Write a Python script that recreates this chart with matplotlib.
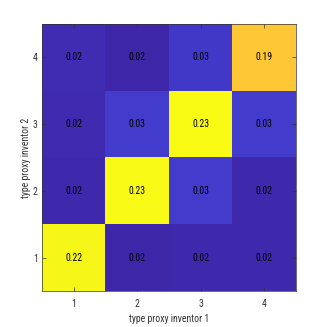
import numpy as np
import matplotlib
matplotlib.use("Agg")
import matplotlib.pyplot as plt
from matplotlib.colors import LinearSegmentedColormap

# shares of type pairs (rows: proxy inventor 2 = 1..4, cols: proxy inventor 1 = 1..4)
types = [1, 2, 3, 4]
row1 = [0.221, 0.017, 0.019, 0.019]
row2 = [0.018, 0.230, 0.030, 0.018]
row3 = [0.020, 0.030, 0.232, 0.030]
row4 = [0.021, 0.017, 0.028, 0.180]
vals = np.array([row1, row2, row3, row4])
labels = [["0.22", "0.02", "0.02", "0.02"],
          ["0.02", "0.23", "0.03", "0.02"],
          ["0.02", "0.03", "0.23", "0.03"],
          ["0.02", "0.02", "0.03", "0.19"]]

# approx matlab parula
parula_pts = [(0.2422, 0.1504, 0.6603), (0.2810, 0.3228, 0.9579), (0.1786, 0.5289, 0.9682),
              (0.0689, 0.6948, 0.8394), (0.2161, 0.7843, 0.5923), (0.6720, 0.7793, 0.2227),
              (0.9970, 0.7659, 0.2199), (0.9505, 0.9413, 0.1249), (0.9769, 0.9839, 0.0805)]
parula = LinearSegmentedColormap.from_list("parula", parula_pts)

plt.rcParams['font.family'] = ['Roboto Condensed', 'DejaVu Sans Condensed', 'Roboto', 'DejaVu Sans']
fig = plt.figure(figsize=(3.27, 3.27), dpi=100)
ax = fig.add_axes([0.128, 0.110, 0.777, 0.817])
ax.pcolormesh(np.arange(0.5, 5), np.arange(0.5, 5), vals, cmap=parula,
              vmin=0.017, vmax=0.232)
for i in range(4):
    for j in range(4):
        ax.text(types[j], types[i], labels[i][j], ha='center', va='center',
                fontsize=7, color='black')
ax.set_xlim(0.5, 4.5)
ax.set_ylim(0.5, 4.5)
ax.set_xticks(types)
ax.set_yticks(types)
ax.tick_params(direction='in', top=True, right=True, length=3, width=0.5,
               labelsize=7, colors='#333333')
ax.tick_params(axis='x', pad=6)
ax.tick_params(axis='y', pad=3)
for s in ax.spines.values():
    s.set_color('#333333')
    s.set_linewidth(0.5)
ax.set_xlabel('type proxy inventor 1', fontsize=7, color='#333333', labelpad=3)
ax.set_ylabel('type proxy inventor 2', fontsize=7, color='#333333', labelpad=1)
fig.savefig('out.png', dpi=100)
